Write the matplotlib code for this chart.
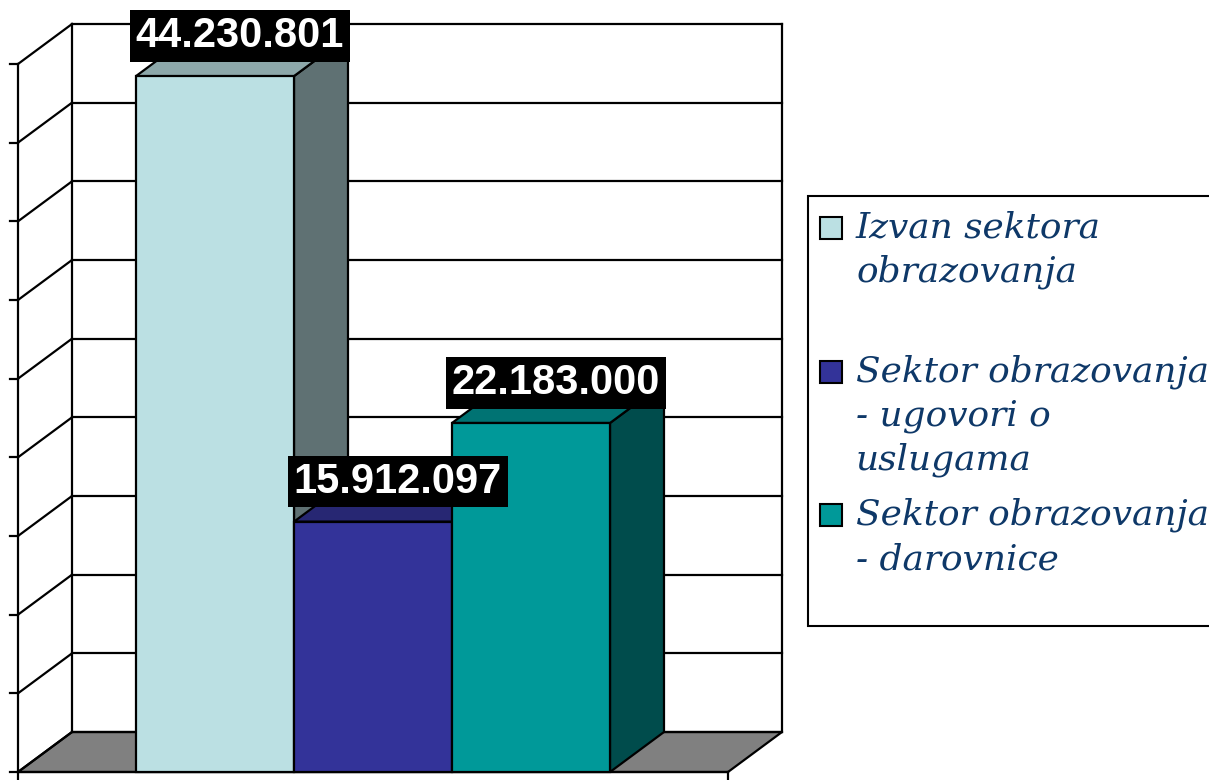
import matplotlib
matplotlib.use("Agg")
import matplotlib.pyplot as plt
from matplotlib.patches import Polygon, Rectangle
import numpy as np

# ---- data ----
series_names = [["Izvan sektora", "obrazovanja"],
                ["Sektor obrazovanja", "- ugovori o", "uslugama"],
                ["Sektor obrazovanja", "- darovnice"]]
values = [44230801, 15912097, 22183000]
value_labels = ["44.230.801", "15.912.097", "22.183.000"]
y_ticks = [0, 5e6, 10e6, 15e6, 20e6, 25e6, 30e6, 35e6, 40e6, 45e6]

front_colors = ["#BBE0E3", "#333399", "#009999"]
top_colors = ["#8DA8AA", "#272773", "#007373"]
side_colors = ["#5F7173", "#1F1F5C", "#004C4C"]

W, H = 1209, 780
fig = plt.figure(figsize=(W / 100, H / 100), dpi=100)
ax = fig.add_axes([0, 0, 1, 1])
ax.set_axis_off()

# pixel geometry of the plot frame
x0px, x1px = 18, 728
ybot_px, ytop_px = 772, 64
ymax = 45.0  # millions
PXX = x1px - x0px
PXY = (ybot_px - ytop_px) / ymax
ax.set_xlim(-x0px / PXX, (W - x0px) / PXX)
ax.set_ylim(-(H - ybot_px) / PXY, ybot_px / PXY)

DX = 54 / PXX
DY = 40 / PXY
lw = 1.6
vals = np.array(values) / 1e6
ticks = np.array(y_ticks) / 1e6

# floor
ax.add_patch(Polygon([(0, 0), (1, 0), (1 + DX, DY), (DX, DY)], closed=True,
                     facecolor="#808080", edgecolor="black", lw=lw, zorder=1))
# back wall grid
for t in ticks:
    ax.plot([DX, 1 + DX], [t + DY, t + DY], color="black", lw=lw, zorder=1)
    ax.plot([0, DX], [t, t + DY], color="black", lw=lw, zorder=1)
    ax.plot([-8 / PXX, 0], [t, t], color="black", lw=lw, zorder=1)
ax.plot([DX, DX], [DY, ymax + DY], color="black", lw=lw, zorder=1)
ax.plot([1 + DX, 1 + DX], [DY, ymax + DY], color="black", lw=lw, zorder=1)
# front axes
ax.plot([0, 0], [0, ymax], color="black", lw=lw, zorder=1)
ax.plot([0, 1], [0, 0], color="black", lw=lw, zorder=1)
for xx in (0, 1):
    ax.plot([xx, xx], [0, -8 / PXY], color="black", lw=lw, zorder=1)

# bars
w = 158 / PXX
for i, v in enumerate(vals):
    xl = 0.5 - 1.5 * w + i * w
    z = 3 + i
    ax.add_patch(Polygon([(xl + w, 0), (xl + w + DX, DY), (xl + w + DX, v + DY), (xl + w, v)],
                         closed=True, facecolor=side_colors[i], edgecolor="black", lw=lw, zorder=z))
    ax.add_patch(Polygon([(xl, v), (xl + w, v), (xl + w + DX, v + DY), (xl + DX, v + DY)],
                         closed=True, facecolor=top_colors[i], edgecolor="black", lw=lw, zorder=z))
    ax.add_patch(Rectangle((xl, 0), w, v, facecolor=front_colors[i], edgecolor="black",
                           lw=lw, zorder=z))

for i, v in enumerate(vals):
    xl = 0.5 - 1.5 * w + i * w
    ax.text(xl + w / 2 + DX / 2 - 2 / PXX, v + DY, value_labels[i], ha="center", va="center",
            color="white", fontsize=30, fontweight="bold", family="Liberation Sans",
            zorder=10,
            bbox=dict(boxstyle="square,pad=0.14", facecolor="black", edgecolor="none"))

# legend (figure pixel layout)
def fx(px):
    return px / W

def fy(py):
    return 1 - py / H

fig.add_artist(Rectangle((fx(808), fy(626)), fx(1215) - fx(808), fy(196) - fy(626),
                         transform=fig.transFigure, facecolor="white", edgecolor="black",
                         lw=1.5, clip_on=False))
line_ys = [[228, 272], [372, 416, 460], [515, 559]]
txt_color = "#0E3868"
for i, lines in enumerate(series_names):
    yc = line_ys[i][0]
    fig.add_artist(Rectangle((fx(820), fy(yc + 11)), fx(842) - fx(820), fy(yc - 11) - fy(yc + 11),
                             transform=fig.transFigure, facecolor=front_colors[i],
                             edgecolor="black", lw=1.5))
    for line, ly in zip(lines, line_ys[i]):
        fig.text(fx(856), fy(ly), line, ha="left", va="center", fontsize=25.8,
                 style="italic", family="DejaVu Serif", color=txt_color)

fig.savefig("out.png", dpi=100)
